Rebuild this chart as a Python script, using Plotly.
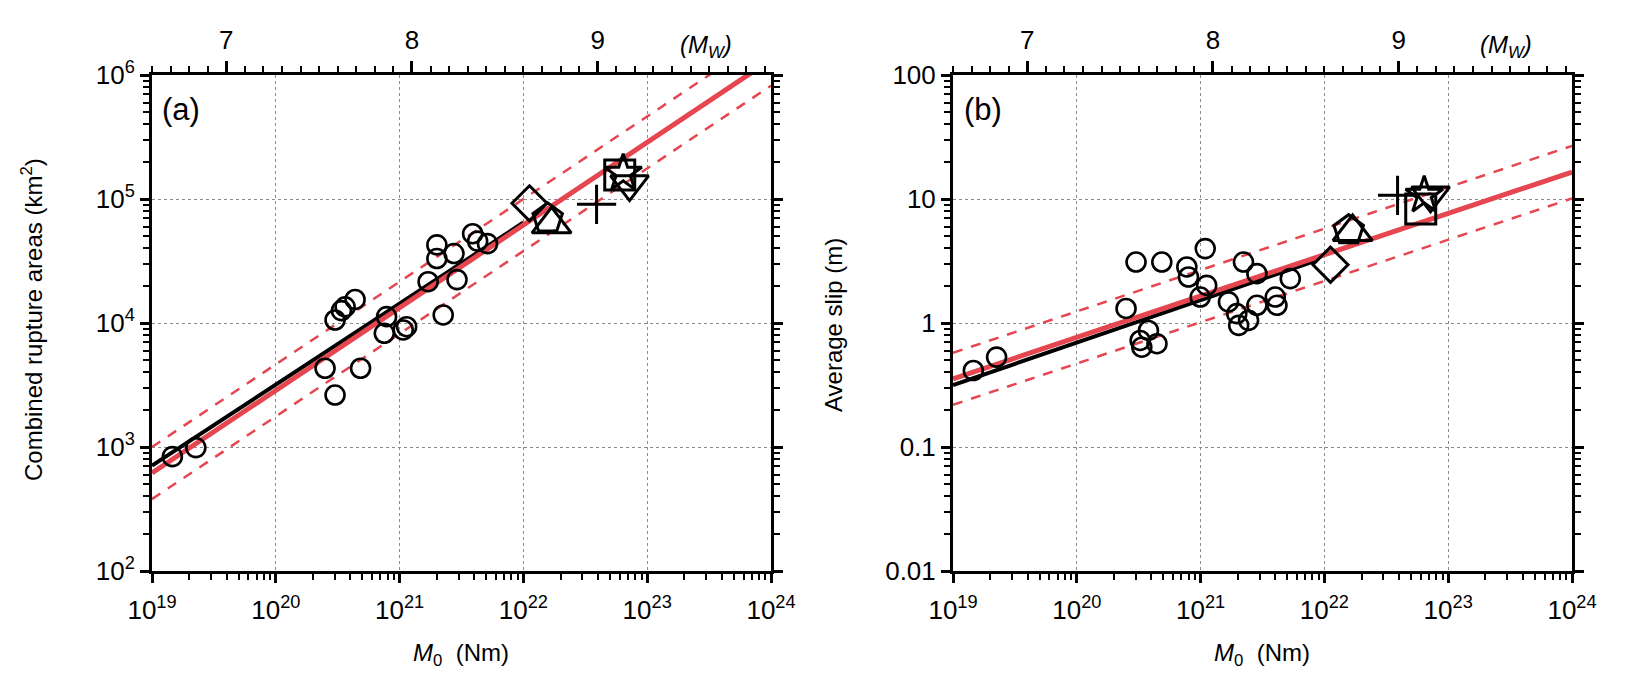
import plotly.graph_objects as go

# ---------------- data ----------------
# Panel (a): combined rupture area vs seismic moment
a_circle_m0 = [1.46e19, 2.26e19, 2.50e20, 3.01e20, 4.84e20, 7.52e20, 7.85e20, 1.07e21, 1.14e21,
               3.01e20, 3.39e20, 3.63e20, 4.37e20, 2.25e21, 1.70e21, 2.91e21, 2.00e21, 2.00e21,
               2.75e21, 3.89e21, 4.27e21, 5.13e21]
a_circle_area = [836, 989, 4315, 2624, 4315, 8260, 11250, 8790, 9330,
                 10570, 12590, 13490, 15490, 11610, 21530, 22390, 42660, 33110,
                 36310, 52480, 45710, 43650]

# Panel (b): average slip vs seismic moment
b_circle_m0 = [1.46e19, 2.25e19, 3.01e20, 4.86e20, 1.09e21, 7.74e20, 7.98e20, 1.12e21, 9.93e20,
               2.50e20, 3.25e20, 3.79e20, 4.44e20, 3.35e20, 2.22e21, 2.85e21, 1.68e21, 1.96e21,
               2.03e21, 2.44e21, 2.85e21, 4.01e21, 4.14e21, 5.30e21]
b_circle_slip = [0.414, 0.531, 3.10, 3.10, 3.98, 2.83, 2.35, 2.01, 1.62,
                 1.31, 0.723, 0.871, 0.681, 0.638, 3.10, 2.50, 1.48, 1.19,
                 0.957, 1.05, 1.39, 1.62, 1.39, 2.28]

# Great events shown with individual symbols
event_symbols = ["diamond-open", "pentagon-open", "triangle-up-open", "cross-thin-open",
                 "square-open", "star-open", "triangle-down-open"]
event_m0 = [1.12e22, 1.57e22, 1.69e22, 3.90e22, 6.00e22, 6.40e22, 7.20e22]
event_area = [92300, 69800, 62500, 90600, 156000, 161000, 132000]
event_slip = [2.95, 5.60, 5.42, 10.7, 8.3, 10.7, 10.7]
event_sizes = [27, 31, 34, 28, 30, 28, 33]

# Scaling-relation lines (end points)
a_fit_m0 = [1e19, 1e24]
a_fit_area = [617, 1.33e6]
a_fit_upper = [1000, 2.15e6]
a_fit_lower = [380, 8.2e5]
a_black_m0 = [1e19, 1e22]
a_black_area = [708, 64600]

b_fit_m0 = [1e19, 1e24]
b_fit_slip = [0.355, 16.5]
b_fit_upper = [0.575, 26.8]
b_fit_lower = [0.219, 10.1]
b_black_m0 = [1e19, 8.7e21]
b_black_slip = [0.316, 3.2]

x_tick_vals = [1e19, 1e20, 1e21, 1e22, 1e23, 1e24]
x_tick_text = ["10<sup>19</sup>", "10<sup>20</sup>", "10<sup>21</sup>", "10<sup>22</sup>",
               "10<sup>23</sup>", "10<sup>24</sup>"]
a_y_tick_vals = [1e2, 1e3, 1e4, 1e5, 1e6]
a_y_tick_text = ["10<sup>2</sup>", "10<sup>3</sup>", "10<sup>4</sup>", "10<sup>5</sup>", "10<sup>6</sup>"]
b_y_tick_vals = [0.01, 0.1, 1, 10, 100]
b_y_tick_text = ["0.01", "0.1", "1", "10", "100"]
mw_tick_vals = [7, 8, 9]
mw_tick_text = ["7", "8", "9"]

# ---------------- styling ----------------
RED = "#e5464f"
FONT = "Liberation Sans, Arial, sans-serif"
OFF = 8                      # page body margin of the exported HTML
W, H = 1640 - 2 * OFF, 677 - 2 * OFF


def minor_vals(lo, hi):
    out = []
    for e in range(lo, hi):
        for k in range(2, 10):
            out.append(k * 10.0 ** e)
    return out


def px_x(p):
    return (p - OFF) / W


def px_y(p):
    return 1 - (p - OFF) / H


dom_a = [px_x(152), px_x(771)]
dom_b = [px_x(953), px_x(1572)]
dom_y = [px_y(571), px_y(75)]

fig = go.Figure()


def add_panel(xa, ya, m0c, vc, fit_m0, fit_v, up, lo, bm0, bv, ev_v):
    kw = dict(xaxis=xa, yaxis=ya, showlegend=False, hoverinfo="skip")
    fig.add_trace(go.Scatter(x=fit_m0, y=up, mode="lines",
                             line=dict(color=RED, width=2.5, dash="10px,9px"), **kw))
    fig.add_trace(go.Scatter(x=fit_m0, y=lo, mode="lines",
                             line=dict(color=RED, width=2.5, dash="10px,9px"), **kw))
    fig.add_trace(go.Scatter(x=bm0, y=bv, mode="lines",
                             line=dict(color="black", width=4), **kw))
    fig.add_trace(go.Scatter(x=fit_m0, y=fit_v, mode="lines",
                             line=dict(color=RED, width=5), **kw))
    fig.add_trace(go.Scatter(x=m0c, y=vc, mode="markers",
                             marker=dict(symbol="circle-open", size=19, color="black",
                                         line=dict(color="black", width=2.6)), **kw))
    for sym, m, v, s in zip(event_symbols, event_m0, ev_v, event_sizes):
        fig.add_trace(go.Scatter(x=[m], y=[v], mode="markers",
                                 marker=dict(symbol=sym, size=s, color="black",
                                             line=dict(color="black", width=3)), **kw))


add_panel("x", "y", a_circle_m0, a_circle_area, a_fit_m0, a_fit_area, a_fit_upper, a_fit_lower,
          a_black_m0, a_black_area, event_area)
add_panel("x2", "y2", b_circle_m0, b_circle_slip, b_fit_m0, b_fit_slip, b_fit_upper, b_fit_lower,
          b_black_m0, b_black_slip, event_slip)

# invisible anchors for the auxiliary (top / right) axes
for xa, ya in [("x3", "y"), ("x4", "y2"), ("x", "y3"), ("x2", "y4")]:
    fig.add_trace(go.Scatter(x=[None], y=[None], xaxis=xa, yaxis=ya, mode="markers",
                             showlegend=False, hoverinfo="skip"))

TICK_SIZE = 26
tickfont = dict(family=FONT, size=TICK_SIZE, color="black")
grid = dict(showgrid=True, gridcolor="#8c8c8c", griddash="dot", gridwidth=1)
common_line = dict(showline=True, linecolor="black", linewidth=3, zeroline=False,
                   automargin=False)


def xbottom(domain, anchor):
    return dict(type="log", range=[19, 24], domain=domain, anchor=anchor,
                tickmode="array", tickvals=x_tick_vals, ticktext=x_tick_text,
                ticks="outside", ticklen=9, tickwidth=2.5, tickcolor="black",
                tickfont=tickfont, ticklabelstandoff=5,
                minor=dict(tickmode="array", tickvals=minor_vals(19, 24), ticks="outside",
                           ticklen=6, tickwidth=2, tickcolor="black", showgrid=False),
                mirror=True, **grid, **common_line)


def yleft(domain, anchor, rng, tv, tt, lo, hi):
    return dict(type="log", range=rng, domain=domain, anchor=anchor,
                tickmode="array", tickvals=tv, ticktext=tt,
                ticks="outside", ticklen=9, tickwidth=2.5, tickcolor="black",
                tickfont=tickfont, ticklabelstandoff=0,
                minor=dict(tickmode="array", tickvals=minor_vals(lo, hi), ticks="outside",
                           ticklen=6, tickwidth=2, tickcolor="black", showgrid=False),
                mirror=True, **grid, **common_line)


def yright(over, anchor, rng, tv, lo, hi):
    return dict(type="log", range=rng, overlaying=over, side="right", anchor=anchor,
                tickmode="array", tickvals=tv, showticklabels=False,
                ticks="outside", ticklen=9, tickwidth=2.5, tickcolor="black",
                minor=dict(tickmode="array", tickvals=minor_vals(lo, hi), ticks="outside",
                           ticklen=6, tickwidth=2, tickcolor="black", showgrid=False),
                showgrid=False, **common_line)


def xtop(over, anchor):
    return dict(range=[(19 - 9.1) / 1.5, (24 - 9.1) / 1.5], overlaying=over, side="top",
                anchor=anchor, tickmode="array", tickvals=mw_tick_vals, ticktext=mw_tick_text,
                ticks="outside", ticklen=11, tickwidth=2.5, tickcolor="black",
                tickfont=dict(family=FONT, size=26, color="black"), ticklabelstandoff=2,
                minor=dict(dtick=0.1, ticks="outside", ticklen=6, tickwidth=2,
                           tickcolor="black", showgrid=False),
                showgrid=False, **common_line)


fig.update_layout(
    width=W, height=H,
    margin=dict(l=0, r=0, t=0, b=0, autoexpand=False),
    paper_bgcolor="white", plot_bgcolor="white",
    font=dict(family=FONT, color="black"),
    xaxis=xbottom(dom_a, "y"),
    xaxis2=xbottom(dom_b, "y2"),
    yaxis=yleft(dom_y, "x", [2, 6], a_y_tick_vals, a_y_tick_text, 2, 6),
    yaxis2=yleft(dom_y, "x2", [-2, 2], b_y_tick_vals, b_y_tick_text, -2, 2),
    xaxis3=xtop("x", "y"),
    xaxis4=xtop("x2", "y2"),
    yaxis3=yright("y", "x", [2, 6], a_y_tick_vals, 2, 6),
    yaxis4=yright("y2", "x2", [-2, 2], b_y_tick_vals, -2, 2),
)

ann = []
lab = dict(family=FONT, size=24, color="black")
ann.append(dict(text="(a)", x=px_x(160), y=px_y(110), xanchor="left", yanchor="middle",
                font=dict(family=FONT, size=31, color="black")))
ann.append(dict(text="(b)", x=px_x(962), y=px_y(110), xanchor="left", yanchor="middle",
                font=dict(family=FONT, size=31, color="black")))
ann.append(dict(text="<i>(M<sub>W</sub>)</i>", x=px_x(706), y=px_y(46), xanchor="center",
                yanchor="middle", font=lab))
ann.append(dict(text="<i>(M<sub>W</sub>)</i>", x=px_x(1506), y=px_y(46), xanchor="center",
                yanchor="middle", font=lab))
ann.append(dict(text="<i>M</i><sub>0</sub>  (Nm)", x=px_x(461), y=px_y(654), xanchor="center",
                yanchor="middle", font=lab))
ann.append(dict(text="<i>M</i><sub>0</sub>  (Nm)", x=px_x(1262), y=px_y(654), xanchor="center",
                yanchor="middle", font=lab))
ann.append(dict(text="Combined rupture areas (km<sup>2</sup>)", x=px_x(32), y=px_y(320),
                textangle=-90, xanchor="center", yanchor="middle", font=lab))
ann.append(dict(text="Average slip (m)", x=px_x(833), y=px_y(325),
                textangle=-90, xanchor="center", yanchor="middle", font=lab))
for a in ann:
    a.update(xref="paper", yref="paper", showarrow=False)
fig.update_layout(annotations=ann)

fig.write_html("out.html")
